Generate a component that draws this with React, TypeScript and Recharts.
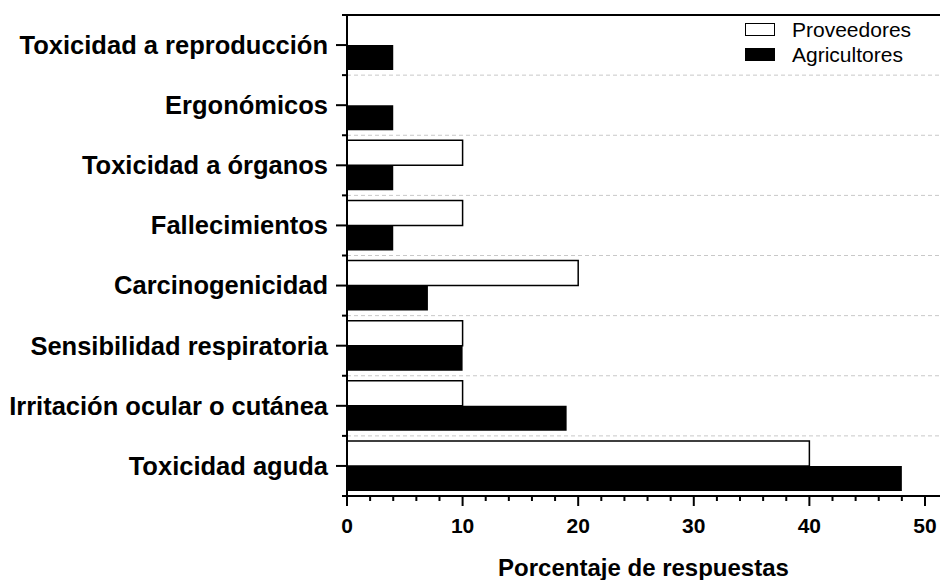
import { Bar, BarChart, CartesianGrid, Legend, XAxis, YAxis } from "recharts";

const categories = [
  "Toxicidad a reproducción",
  "Ergonómicos",
  "Toxicidad a órganos",
  "Fallecimientos",
  "Carcinogenicidad",
  "Sensibilidad respiratoria",
  "Irritación ocular o cutánea",
  "Toxicidad aguda",
];
const proveedores = [0, 0, 10, 10, 20, 10, 10, 40];
const agricultores = [4, 4, 4, 4, 7, 10, 19, 48];
const seriesNames = ["Proveedores", "Agricultores"];
const xTicks = [0, 2, 4, 6, 8, 10, 12, 14, 16, 18, 20, 22, 24, 26, 28, 30, 32, 34, 36, 38, 40, 42, 44, 46, 48, 50];

const FONT = '"Liberation Sans", Arial, sans-serif';

const data = categories.map((name, i) => ({
  name,
  proveedores: proveedores[i],
  agricultores: agricultores[i],
}));

// dashed separators between the category bands
const bandBoundaries = ({ offset }: any) =>
  categories.slice(1).map((_, i) => offset.top + ((i + 1) * offset.height) / categories.length);

const topEdge = ({ offset }: any) => [offset.top];

function CategoryTick(props: any) {
  const { x, y, payload, index } = props;
  const half = payload?.offset ?? 30;
  return (
    <g>
      <line x1={x - 11} x2={x} y1={y} y2={y} stroke="#000" strokeWidth={2} />
      <line x1={x - 5} x2={x} y1={y + half} y2={y + half} stroke="#000" strokeWidth={2} />
      {index === 0 && (
        <line x1={x - 5} x2={x} y1={y - half} y2={y - half} stroke="#000" strokeWidth={2} />
      )}
      <text
        x={x - 19}
        y={y}
        dy="0.35em"
        textAnchor="end"
        fontFamily={FONT}
        fontWeight="bold"
        fontSize={25.5}
        fill="#000"
      >
        {payload.value}
      </text>
    </g>
  );
}

function ValueTick(props: any) {
  const { x, y, payload } = props;
  const major = payload.value % 10 === 0;
  return (
    <g>
      <line x1={x} x2={x} y1={y} y2={y + (major ? 10 : 5)} stroke="#000" strokeWidth={2} />
      {major && (
        <text
          x={x}
          y={y + 22}
          dy="0.71em"
          textAnchor="middle"
          fontFamily={FONT}
          fontWeight="bold"
          fontSize={21}
          fill="#000"
        >
          {payload.value}
        </text>
      )}
    </g>
  );
}

function renderLegend(props: any) {
  const items = props.payload ?? [];
  const ordered = seriesNames
    .map((n) => items.find((it: any) => it.value === n))
    .filter(Boolean);
  return (
    <div style={{ fontFamily: FONT, fontSize: 21, color: "#000" }}>
      {ordered.map((item: any) => (
        <div
          key={item.value}
          style={{ display: "flex", alignItems: "center", height: 25 }}
        >
          <span
            style={{
              display: "inline-block",
              width: 28,
              height: 11,
              background: item.color,
              border: "1.5px solid #000",
              marginRight: 17,
            }}
          />
          <span>{item.value}</span>
        </div>
      ))}
    </div>
  );
}

export default function App() {
  return (
    <div
      style={{
        position: "absolute",
        left: 0,
        top: 0,
        width: 940,
        height: 580,
        background: "#fff",
      }}
    >
      <BarChart
        width={940}
        height={580}
        data={data}
        layout="vertical"
        barGap={0}
        barSize={25}
        margin={{ top: 15, right: 0, bottom: 0, left: 0 }}
      >
        <CartesianGrid
          vertical={false}
          stroke="#c8c8c8"
          strokeDasharray="4 3"
          horizontalCoordinatesGenerator={bandBoundaries}
        />
        <CartesianGrid
          vertical={false}
          stroke="#000"
          strokeWidth={2}
          horizontalCoordinatesGenerator={topEdge}
        />
        <YAxis
          type="category"
          dataKey="name"
          width={347}
          axisLine={{ stroke: "#000", strokeWidth: 2 }}
          tickLine={false}
          tickSize={0}
          tickMargin={0}
          tick={<CategoryTick />}
          interval={0}
        />
        <XAxis
          type="number"
          domain={[0, 51.3]}
          ticks={xTicks}
          interval={0}
          height={84}
          axisLine={{ stroke: "#000", strokeWidth: 2 }}
          tickLine={false}
          tickSize={0}
          tickMargin={0}
          tick={<ValueTick />}
          label={{
            value: "Porcentaje de respuestas",
            position: "insideBottom",
            offset: 4,
            fontFamily: FONT,
            fontWeight: "bold",
            fontSize: 24,
            fill: "#000",
          }}
        />
        <Legend
          layout="vertical"
          align="center"
          verticalAlign="middle"
          wrapperStyle={{ top: 17, left: 745, width: "auto" }}
          content={renderLegend}
        />
        <Bar
          dataKey="proveedores"
          name="Proveedores"
          fill="#fff"
          stroke="#000"
          strokeWidth={1.5}
          isAnimationActive={false}
        />
        <Bar
          dataKey="agricultores"
          name="Agricultores"
          fill="#000"
          isAnimationActive={false}
        />
      </BarChart>
    </div>
  );
}
